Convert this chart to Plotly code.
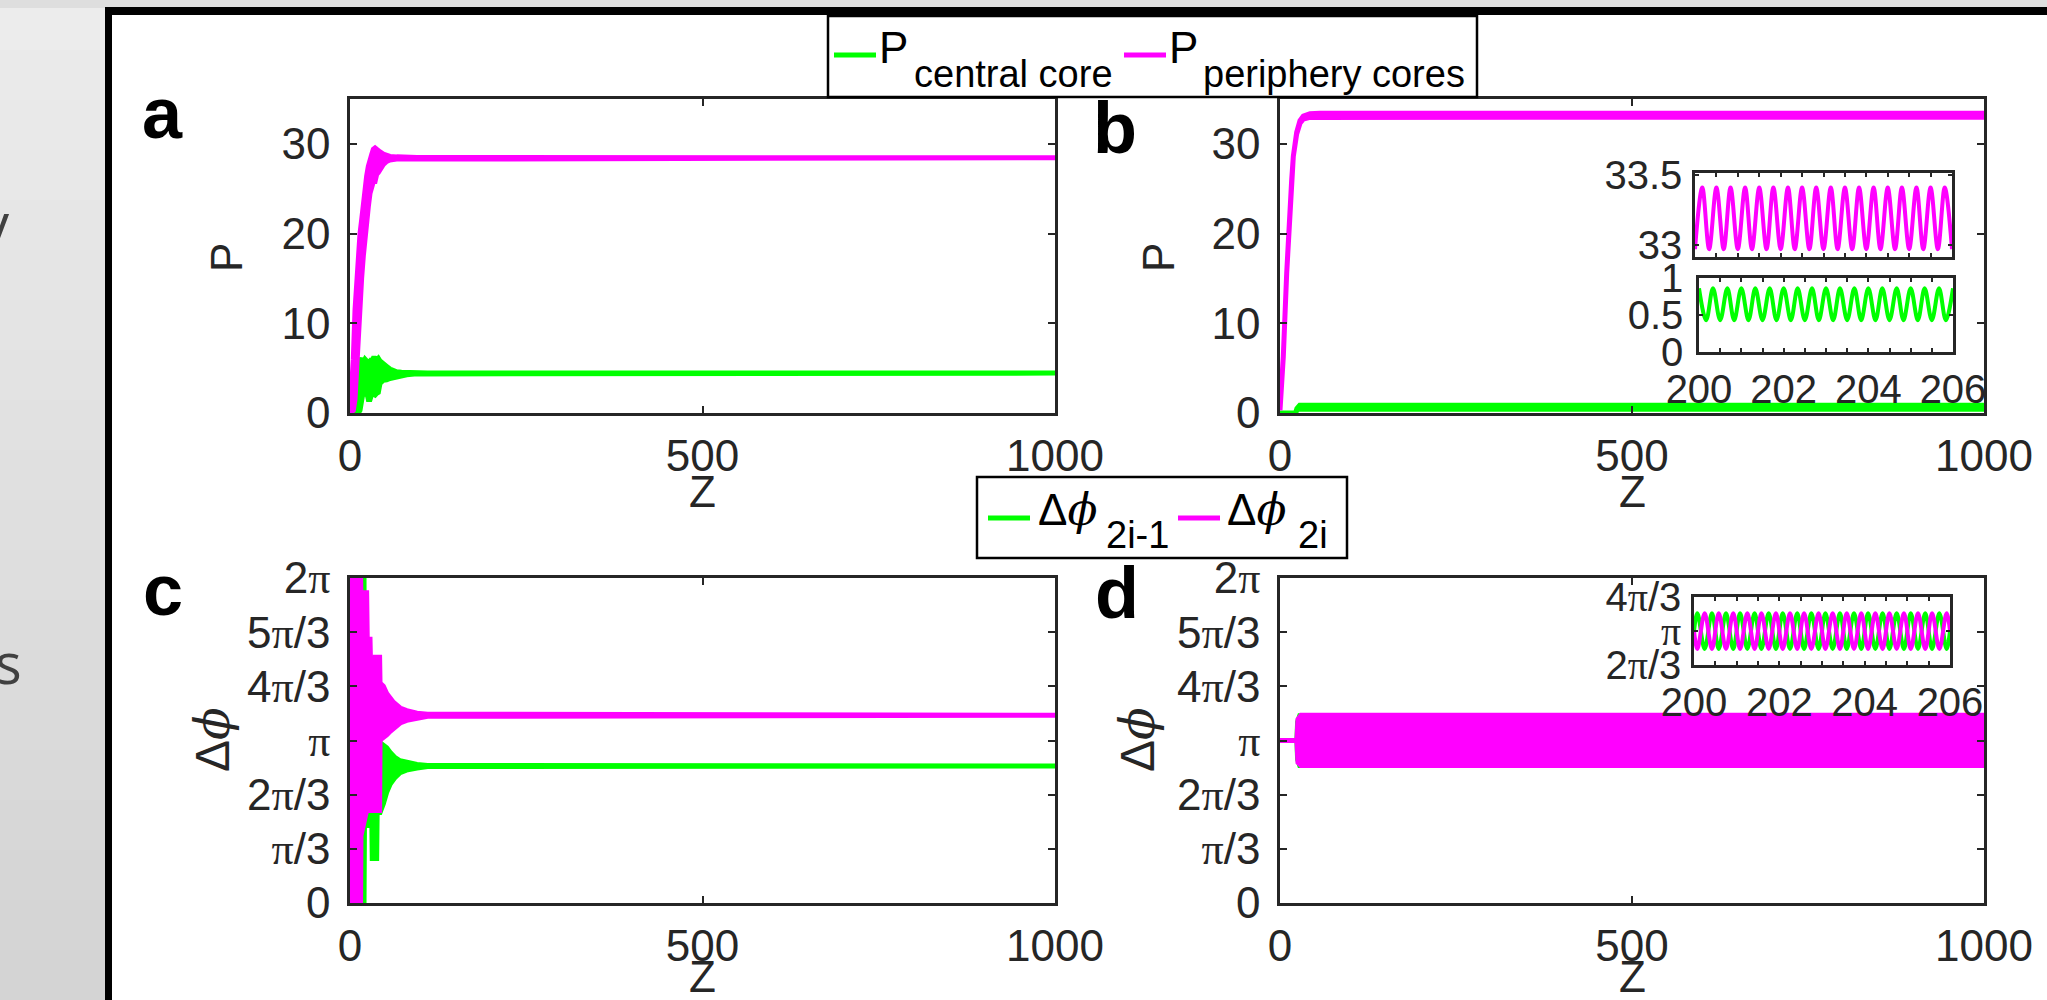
import math
import plotly.graph_objects as go

W, H = 2047, 1000
PI = math.pi

# ---------------- data ----------------
# panel a : power, envelope of the transient then steady level
a_mag_z = [0, 4.7, 7.1, 9.5, 11.8, 14.2, 16.5, 18.9, 21.3, 23.6, 26.0, 28.4, 30.7, 33.1, 35.5,
           37.8, 40.2, 42.6, 47.3, 52.0, 56.7, 66.2, 80.4, 95, 1000]
a_mag_hi = [0, 6.0, 11.5, 14.8, 17.8, 20.0, 21.5, 23.4, 24.9, 26.4, 27.5, 28.4, 28.8, 29.4, 29.55,
            29.4, 29.2, 29.1, 28.85, 28.7, 28.6, 28.55, 28.5, 28.47, 28.45]
a_mag_lo = [0, 0.3, 1.5, 4.0, 8.0, 12.0, 15.0, 17.5, 19.5, 21.5, 23.0, 24.5, 25.3, 25.8, 25.8,
            26.6, 26.8, 27.0, 27.7, 28.05, 28.2, 28.3, 28.35, 28.4, 28.45]
a_cen_z = [0, 7.1, 9.5, 11.8, 14.2, 16.5, 18.9, 21.3, 23.6, 26.0, 28.4, 30.7, 33.1, 35.5, 37.8,
           40.2, 42.6, 47.3, 52.0, 56.7, 61.5, 66.2, 73.0, 80.4, 95, 110, 1000]
a_cen_hi = [0, 0.4, 2.8, 6.0, 5.8, 6.1, 5.6, 6.0, 5.8, 5.6, 5.8, 5.6, 6.1, 6.1, 5.9,
            6.1, 5.8, 5.4, 5.2, 4.9, 4.7, 4.6, 4.55, 4.52, 4.48, 4.45, 4.45]
a_cen_lo = [0, 0, 0, 0, 0.3, 1.0, 2.5, 1.9, 2.4, 1.5, 1.5, 2.1, 2.1, 2.0, 2.2,
            2.3, 3.3, 3.65, 3.7, 3.85, 3.98, 4.08, 4.17, 4.27, 4.36, 4.42, 4.45]

# panel b
b_mag_z = [0, 4.7, 9.5, 11.8, 14.2, 16.6, 18.9, 23.7, 28.4, 33.1, 42.6, 56.8, 1000]
b_mag_hi = [0.3, 6.3, 15.6, 19.0, 23.0, 26.0, 28.6, 31.3, 32.6, 33.1, 33.35, 33.4, 33.4]
b_mag_lo = [0.3, 6.3, 15.6, 19.0, 23.0, 26.0, 28.6, 31.1, 32.3, 32.75, 32.95, 32.97, 32.97]
b_cen_z = [0, 22, 24, 26, 28, 1000]
b_cen_hi = [0, 0, 0.5, 0.8, 0.86, 0.86]
b_cen_lo = [0, 0, 0.3, 0.45, 0.43, 0.43]

# panel b insets (z from 200 to 206)
ins_b_z = [200.00, 200.17, 200.33, 200.50, 200.67, 200.83, 201.00, 201.17, 201.33, 201.50,
           201.67, 201.83, 202.00, 202.17, 202.33, 202.50, 202.67, 202.83, 203.00, 203.17,
           203.33, 203.50, 203.67, 203.83, 204.00, 204.17, 204.33, 204.50, 204.67, 204.83,
           205.00, 205.17, 205.33, 205.50, 205.67, 205.83, 206.00]
ins_b_mag = [32.97, 33.41, 32.97, 33.41, 32.97, 33.41, 32.97, 33.41, 32.97, 33.41,
             32.97, 33.41, 32.97, 33.41, 32.97, 33.41, 32.97, 33.41, 32.97, 33.41,
             32.97, 33.41, 32.97, 33.41, 32.97, 33.41, 32.97, 33.41, 32.97, 33.41,
             32.97, 33.41, 32.97, 33.41, 32.97, 33.41, 32.97]
ins_b_cen = [0.86, 0.43, 0.86, 0.43, 0.86, 0.43, 0.86, 0.43, 0.86, 0.43,
             0.86, 0.43, 0.86, 0.43, 0.86, 0.43, 0.86, 0.43, 0.86, 0.43,
             0.86, 0.43, 0.86, 0.43, 0.86, 0.43, 0.86, 0.43, 0.86, 0.43,
             0.86, 0.43, 0.86, 0.43, 0.86, 0.43, 0.86]

# panel c : phase differences (rad)
c_mag_z = [0, 1.5, 2.0, 15.0, 15.5, 23.6, 24.5, 28.4, 29.0, 33.1, 34.0, 35.5, 36.0, 42.0, 42.6,
           47.3, 52.0, 57.0, 61.5, 66.0, 71.0, 80.4, 88.0, 95.0, 110.0, 1000]
c_mag_hi = [1.05, 1.05, 6.28, 6.28, 6.0, 6.0, 5.1, 5.1, 4.7, 4.7, 4.25, 4.25, 4.75, 4.75, 4.25,
            4.19, 4.05, 3.95, 3.88, 3.83, 3.77, 3.72, 3.69, 3.67, 3.65, 3.63]
c_mag_lo = [1.05, 1.05, 0.0, 0.0, 1.3, 1.79, 1.79, 1.79, 1.79, 1.79, 1.79, 1.79, 1.79, 1.79, 3.15,
            3.2, 3.25, 3.32, 3.38, 3.43, 3.48, 3.53, 3.56, 3.58, 3.61, 3.63]
c_grn_z = [0, 13.5, 14.2, 19.9, 20.5, 31.0, 31.6, 37.8, 38.5, 42.6, 47.3, 52.0, 57.0, 64.0,
           71.0, 80.0, 95.0, 110.0, 1000]
c_grn_hi = [0, 0, 6.28, 6.28, 4.0, 4.0, 4.0, 4.0, 3.5, 3.10, 3.05, 3.0, 2.91, 2.81,
            2.75, 2.72, 2.68, 2.66, 2.65]
c_grn_lo = [0, 0, 0, 0, 1.5, 1.5, 0.86, 0.86, 1.75, 1.75, 1.92, 2.14, 2.30, 2.43,
            2.52, 2.57, 2.61, 2.64, 2.65]

# panel d
d_grn_z = [0, 24, 25, 28, 1000]
d_grn_hi = [3.1416, 3.1416, 3.5, 3.62, 3.62]
d_grn_lo = [3.1416, 3.1416, 2.78, 2.66, 2.66]
d_mag_z = [0, 24, 25.5, 30, 1000]
d_mag_hi = [3.1416, 3.1416, 3.55, 3.63, 3.63]
d_mag_lo = [3.1416, 3.1416, 2.72, 2.66, 2.66]

# panel d inset
ins_d_z = [200.00, 200.08, 200.25, 200.42, 200.58, 200.75, 200.92, 201.08, 201.25, 201.42,
           201.58, 201.75, 201.92, 202.08, 202.25, 202.42, 202.58, 202.75, 202.92, 203.08,
           203.25, 203.42, 203.58, 203.75, 203.92, 204.08, 204.25, 204.42, 204.58, 204.75,
           204.92, 205.08, 205.25, 205.42, 205.58, 205.75, 205.92, 206.00]
ins_d_grn = [3.14, 3.69, 2.59, 3.69, 2.59, 3.69, 2.59, 3.69, 2.59, 3.69,
             2.59, 3.69, 2.59, 3.69, 2.59, 3.69, 2.59, 3.69, 2.59, 3.69,
             2.59, 3.69, 2.59, 3.69, 2.59, 3.69, 2.59, 3.69, 2.59, 3.69,
             2.59, 3.69, 2.59, 3.69, 2.59, 3.69, 2.59, 3.14]
ins_d_mag = [3.14, 2.59, 3.69, 2.59, 3.69, 2.59, 3.69, 2.59, 3.69, 2.59,
             3.69, 2.59, 3.69, 2.59, 3.69, 2.59, 3.69, 2.59, 3.69, 2.59,
             3.69, 2.59, 3.69, 2.59, 3.69, 2.59, 3.69, 2.59, 3.69, 2.59,
             3.69, 2.59, 3.69, 2.59, 3.69, 2.59, 3.69, 3.14]

# tick labels
p_ticks = [0, 10, 20, 30]
z_ticks = [0, 500, 1000]
PIS = '<span style="font-family:Liberation Serif">π</span>'
phi_ticktext = ["0", PIS + "/3", "2" + PIS + "/3", PIS, "4" + PIS + "/3", "5" + PIS + "/3", "2" + PIS]
phi_tickvals = [0, PI / 3, 2 * PI / 3, PI, 4 * PI / 3, 5 * PI / 3, 2 * PI]
ins_x_ticks = [200, 200.5, 201, 201.5, 202, 202.5, 203, 203.5, 204, 204.5, 205, 205.5, 206]
ins_x_text = ["200", "", "", "", "202", "", "", "", "204", "", "", "", "206"]
ins_x_blank = [""] * len(ins_x_ticks)

# ---------------- styling ----------------
GREEN = "#00ff00"
MAGENTA = "#ff00ff"
AX = "#262626"
FONT = "Liberation Sans, Arial, sans-serif"


def X(p):
    return p / W


def Y(p):
    return 1 - p / H


fig = go.Figure()


def band(z, hi, lo, color, n, width=5):
    sx = "x" if n == 1 else "x%d" % n
    sy = "y" if n == 1 else "y%d" % n
    fig.add_trace(go.Scatter(x=list(z) + list(z)[::-1], y=list(hi) + list(lo)[::-1],
                             mode="lines", fill="toself", fillcolor=color,
                             line=dict(color=color, width=width),
                             xaxis=sx, yaxis=sy, hoverinfo="skip", showlegend=False))


def wave(z, v, color, n, width=4):
    sx = "x%d" % n
    sy = "y%d" % n
    fig.add_trace(go.Scatter(x=z, y=v, mode="lines",
                             line=dict(color=color, width=width, shape="spline", smoothing=1.0),
                             xaxis=sx, yaxis=sy, hoverinfo="skip", showlegend=False))


band(a_cen_z, a_cen_hi, a_cen_lo, GREEN, 1)
band(a_mag_z, a_mag_hi, a_mag_lo, MAGENTA, 1)
band(b_cen_z, b_cen_hi, b_cen_lo, GREEN, 2)
band(b_mag_z, b_mag_hi, b_mag_lo, MAGENTA, 2)
band(c_grn_z, c_grn_hi, c_grn_lo, GREEN, 3)
band(c_mag_z, c_mag_hi, c_mag_lo, MAGENTA, 3)
band(d_grn_z, d_grn_hi, d_grn_lo, GREEN, 4)
band(d_mag_z, d_mag_hi, d_mag_lo, MAGENTA, 4)
wave(ins_b_z, ins_b_mag, MAGENTA, 5)
wave(ins_b_z, ins_b_cen, GREEN, 6)
wave(ins_d_z, ins_d_grn, GREEN, 7)
wave(ins_d_z, ins_d_mag, MAGENTA, 7)


def axis(dom, anchor, rng, tickvals, ticktext=None, size=44, ticklen=7, standoff=12):
    d = dict(domain=dom, anchor=anchor, range=rng, showline=True, linewidth=2.5, linecolor=AX,
             mirror="ticks", ticks="inside", ticklen=ticklen, tickwidth=2, tickcolor=AX,
             showgrid=False, zeroline=False, tickvals=tickvals, automargin=False,
             tickfont=dict(family=FONT, size=size, color=AX), ticklabelstandoff=standoff,
             fixedrange=True)
    if ticktext is not None:
        d["ticktext"] = ticktext
    return d


ax_a = [X(350), X(1055)]
ax_b = [X(1280), X(1984)]
top_y = [Y(413), Y(99)]
bot_y = [Y(903), Y(578)]

layout = dict(
    width=W, height=H, margin=dict(l=0, r=0, t=0, b=0, pad=0, autoexpand=False),
    paper_bgcolor="white", plot_bgcolor="white", showlegend=False,
    xaxis=axis(ax_a, "y", [0, 1000], z_ticks, standoff=2),
    yaxis=axis(top_y, "x", [0, 35], p_ticks, standoff=8),
    xaxis2=axis(ax_b, "y2", [0, 1000], z_ticks, standoff=2),
    yaxis2=axis(top_y, "x2", [0, 35], p_ticks, standoff=8),
    xaxis3=axis(ax_a, "y3", [0, 1000], z_ticks, standoff=2),
    yaxis3=axis(bot_y, "x3", [0, 2 * PI], phi_tickvals, phi_ticktext, standoff=8),
    xaxis4=axis(ax_b, "y4", [0, 1000], z_ticks, standoff=2),
    yaxis4=axis(bot_y, "x4", [0, 2 * PI], phi_tickvals, phi_ticktext, standoff=8),
    xaxis5=axis([X(1695), X(1952)], "y5", [200, 206], ins_x_ticks, ins_x_blank, size=40, ticklen=4),
    yaxis5=axis([Y(257), Y(173)], "x5", [32.914, 33.514], [33, 33.5], ["33", "33.5"], size=40, ticklen=4, standoff=2),
    xaxis6=axis([X(1699), X(1953)], "y6", [200, 206], ins_x_ticks, ins_x_text, size=40, ticklen=4, standoff=0),
    yaxis6=axis([Y(352), Y(278)], "x6", [0, 1], [0, 0.5, 1], ["0", "0.5", "1"], size=40, ticklen=4, standoff=5),
    xaxis7=axis([X(1694), X(1950)], "y7", [200, 206], ins_x_ticks, ins_x_text, size=40, ticklen=4, standoff=0),
    yaxis7=axis([Y(665), Y(597)], "x7", [2 * PI / 3, 4 * PI / 3], [2 * PI / 3, PI, 4 * PI / 3],
                ["2" + PIS + "/3", PIS, "4" + PIS + "/3"], size=40, ticklen=4, standoff=2),
)
fig.update_layout(**layout)

# ---------------- background (slide) ----------------
shapes = []
n = 20
for i in range(n):
    g = int(236 - (236 - 212) * i / (n - 1))
    shapes.append(dict(type="rect", xref="paper", yref="paper", x0=X(0), x1=X(106),
                       y0=Y(i * 50 + 50), y1=Y(i * 50), line=dict(width=0),
                       fillcolor="rgb(%d,%d,%d)" % (g, g, g), layer="below"))
shapes.append(dict(type="rect", xref="paper", yref="paper", x0=X(0), x1=X(2047), y0=Y(8), y1=Y(0),
                   line=dict(width=0), fillcolor="#dedede", layer="below"))
shapes.append(dict(type="rect", xref="paper", yref="paper", x0=X(105), x1=X(2047), y0=Y(15), y1=Y(7),
                   line=dict(width=0), fillcolor="black", layer="below"))
shapes.append(dict(type="rect", xref="paper", yref="paper", x0=X(105), x1=X(112), y0=Y(1000), y1=Y(7),
                   line=dict(width=0), fillcolor="black", layer="below"))
# legend boxes
shapes.append(dict(type="rect", xref="paper", yref="paper", x0=X(828), x1=X(1477), y0=Y(97), y1=Y(16),
                   line=dict(color="black", width=2.5), fillcolor="white", layer="above"))
shapes.append(dict(type="rect", xref="paper", yref="paper", x0=X(977), x1=X(1347), y0=Y(558), y1=Y(477),
                   line=dict(color="black", width=2.5), fillcolor="white", layer="above"))
for (x0, x1, yy, col) in [(834, 876, 55, GREEN), (1124, 1166, 55, MAGENTA),
                          (988, 1030, 518, GREEN), (1178, 1220, 518, MAGENTA)]:
    shapes.append(dict(type="line", xref="paper", yref="paper", x0=X(x0), x1=X(x1), y0=Y(yy), y1=Y(yy),
                       line=dict(color=col, width=5), layer="above"))
fig.update_layout(shapes=shapes)

# ---------------- text ----------------
ann = []


def text(s, x, y, size, xanchor="center", yanchor="middle", color="black", family=FONT, angle=0):
    ann.append(dict(text=s, x=X(x), y=Y(y), xref="paper", yref="paper", showarrow=False,
                    xanchor=xanchor, yanchor=yanchor, textangle=angle,
                    font=dict(family=family, size=size, color=color)))


# panel letters
for s, x, y in [("a", 162, 113), ("b", 1115, 128), ("c", 163, 590), ("d", 1117, 593)]:
    text("<b>%s</b>" % s, x, y, 72)
# axis labels
for x, y in [(702, 491), (1632, 491), (702, 976), (1632, 976)]:
    text("Z", x, y, 44, color=AX)
text("P", 226, 258, 44, color=AX, angle=-90)
text("P", 1158, 258, 44, color=AX, angle=-90)
PHI = '<span style="font-family:DejaVu Serif;font-style:italic">ϕ</span>'
text("Δ" + PHI, 212, 740, 48, color=AX, angle=-90)
text("Δ" + PHI, 1137, 740, 48, color=AX, angle=-90)
# legend 1
text("P", 877, 47, 44, xanchor="left")
text("central core", 912, 74, 38, xanchor="left")
text("P", 1167, 47, 44, xanchor="left")
text("periphery cores", 1201, 74, 38, xanchor="left")
# legend 2
text("Δ" + PHI, 1036, 509, 44, xanchor="left")
text("2i-1", 1104, 535, 38, xanchor="left")
text("Δ" + PHI, 1225, 509, 44, xanchor="left")
text("2i", 1296, 535, 38, xanchor="left")
# slide fragments at the left edge
text("y", 12, 222, 56, xanchor="right", color="#404040", family="Open Sans")
text("s", 24, 662, 56, xanchor="right", color="#404040", family="Open Sans")

fig.update_layout(annotations=ann)
fig.write_html("out.html", config={"displayModeBar": False},
               post_script="document.body.style.margin='0px';document.body.style.overflow='hidden';")
